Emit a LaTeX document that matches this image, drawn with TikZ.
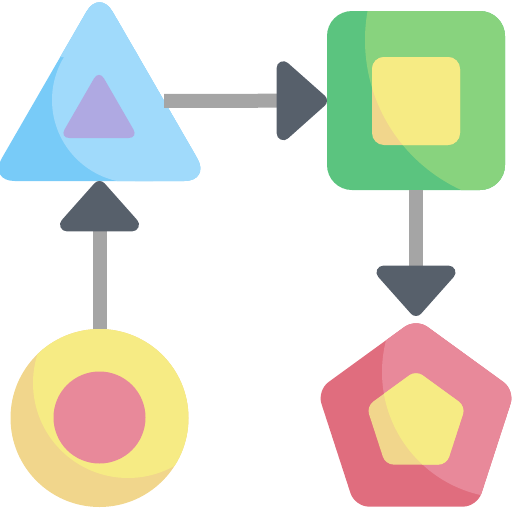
\documentclass[tikz,border=0pt]{standalone}
\usetikzlibrary{shapes.geometric, arrows.meta}

\definecolor{skydark}{HTML}{78CBF8}
\definecolor{skylight}{HTML}{A0DAFB}
\definecolor{lilac}{HTML}{AFA9E2}
\definecolor{leafdark}{HTML}{5BC47F}
\definecolor{leaflight}{HTML}{88D37E}
\definecolor{sundark}{HTML}{F1D68C}
\definecolor{sunlight}{HTML}{F6EB84}
\definecolor{rosedark}{HTML}{E06D7E}
\definecolor{roselight}{HTML}{E8899A}
\definecolor{wire}{HTML}{A5A5A5}
\definecolor{slate}{HTML}{57606B}

\begin{document}
\begin{tikzpicture}[x=1pt, y=-1pt]
        \tikzstyle{block} = [inner sep=0pt, outer sep=0pt, draw=none]
        \tikzstyle{trishape} = [block, regular polygon, regular polygon sides=3]
        \tikzstyle{penshape} = [block, regular polygon, regular polygon sides=5]
        \tikzstyle{boxshape} = [block, rectangle]
        \tikzstyle{dotshape} = [block, circle]
        \tikzstyle{arrow} = [draw=wire, line width=14pt, -{Triangle[length=54pt, width=92pt, round, color=slate]}]

        \useasboundingbox (0,0) rectangle (512,512);

        % Glow centres
        \coordinate (triglow) at (135,100);
        \coordinate (boxglow) at (530,40);
        \coordinate (penglow) at (508,372);
        \coordinate (dotglow) at (128,383);

        % Nodes
        \node (triangle) [trishape, minimum size=256pt, rounded corners=26pt, fill=skydark,
            path picture={
                \fill[skylight] (triglow) circle (83pt);
                \fill[skylight] ([shift={(0pt,-150pt)}]triglow) rectangle ([shift={(150pt,150pt)}]triglow);
                \fill[skylight] ([shift={(-150pt,43pt)}]triglow) rectangle ([shift={(150pt,150pt)}]triglow);
            }] at (99.5,117) {};
        \node (trianglein) [trishape, minimum size=91pt, rounded corners=10pt, fill=lilac] at (99,115.3) {};

        \node (square) [boxshape, minimum width=178pt, minimum height=179pt, rounded corners=25pt, fill=leafdark,
            path picture={\fill[leaflight] (boxglow) circle (165pt);}] at (416,100.5) {};
        \node (squarein) [boxshape, minimum size=88pt, rounded corners=12pt, fill=sundark,
            path picture={\fill[sunlight] (boxglow) circle (165pt);}] at (416,101) {};

        \node (pentagon) [penshape, minimum size=208pt, rounded corners=14pt, fill=rosedark,
            path picture={\fill[roselight] (penglow) circle (126pt);}] at (416,422.5) {};
        \node (pentagonin) [penshape, minimum size=104pt, rounded corners=8pt, fill=sundark,
            path picture={\fill[sunlight] (penglow) circle (126pt);}] at (416,422.5) {};

        \node (dot) [dotshape, minimum size=178pt, fill=sundark,
            path picture={\fill[sunlight] (dotglow) circle (95pt);}] at (99.5,418) {};
        \node (dotin) [dotshape, minimum size=92pt, fill=roselight] at (99.5,417.5) {};

        % Arrows
        \draw [arrow] (triangle.14.35) -- (square);
        \draw [arrow, shorten >=2.5pt] (square) -- (pentagon.north);
        \draw [arrow] (dot) -- (triangle.south);

\end{tikzpicture}
\end{document}
